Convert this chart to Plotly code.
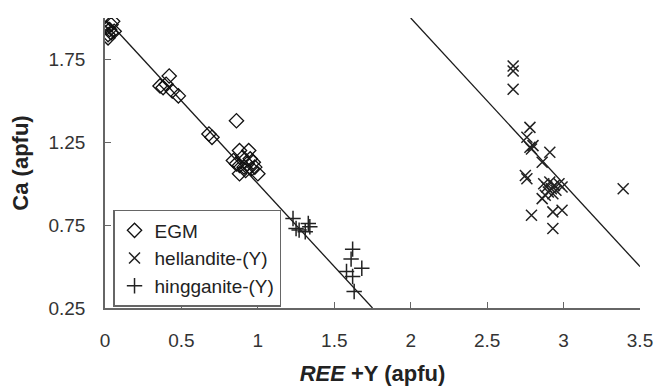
import plotly.graph_objects as go

# EGM data (REE+Y, Ca)
egm_x = [0.02, 0.03, 0.04, 0.05, 0.01, 0.06, 0.02, 0.04,
         0.38, 0.40, 0.42, 0.44, 0.48, 0.36,
         0.68, 0.70, 0.86,
         0.88, 0.94, 0.84, 0.88, 0.88, 0.97, 1.00, 0.96, 0.93, 0.91, 0.95, 0.92, 0.98, 0.90, 0.86]
egm_y = [1.90, 1.93, 1.96, 1.98, 1.94, 1.92, 1.88, 1.91,
         1.58, 1.60, 1.65, 1.56, 1.53, 1.59,
         1.30, 1.28, 1.38,
         1.20, 1.20, 1.14, 1.11, 1.06, 1.13, 1.06, 1.09, 1.12, 1.10, 1.15, 1.08, 1.10, 1.16, 1.12]

hel_x = [2.67, 2.67, 2.67, 2.78, 2.76, 2.78, 2.79, 2.80, 2.91, 2.86, 2.75, 2.76,
         2.89, 2.87, 2.90, 2.92, 2.94, 2.88, 2.91, 2.93, 2.95, 2.97, 2.99,
         3.39, 2.79, 2.93, 2.99, 2.93, 2.86]
hel_y = [1.71, 1.68, 1.57, 1.34, 1.28, 1.22, 1.21, 1.23, 1.19, 1.13, 1.05, 1.03,
         0.98, 1.00, 0.95, 0.97, 0.99, 0.93, 1.01, 0.94, 0.96, 1.00, 0.98,
         0.97, 0.81, 0.83, 0.84, 0.73, 0.91]

hin_x = [1.23, 1.25, 1.33, 1.27, 1.31, 1.34, 1.62, 1.61, 1.58, 1.62, 1.68, 1.63]
hin_y = [0.79, 0.73, 0.76, 0.72, 0.71, 0.74, 0.605, 0.545, 0.47, 0.44, 0.49, 0.35]

line1_x = [0.05, 1.75]
line1_y = [1.95, 0.25]
line2_x = [2.0, 3.5]
line2_y = [2.0, 0.5]

x_ticks = [0, 0.5, 1, 1.5, 2, 2.5, 3, 3.5]
x_labels = ["0", "0.5", "1", "1.5", "2", "2.5", "3", "3.5"]
y_ticks = [0.25, 0.75, 1.25, 1.75]
y_labels = ["0.25", "0.75", "1.25", "1.75"]

fig = go.Figure()
fig.add_trace(go.Scatter(x=line1_x, y=line1_y, mode="lines",
                         line=dict(color="#1a1a1a", width=1.3), showlegend=False, hoverinfo="skip"))
fig.add_trace(go.Scatter(x=line2_x, y=line2_y, mode="lines",
                         line=dict(color="#1a1a1a", width=1.3), showlegend=False, hoverinfo="skip"))
fig.add_trace(go.Scatter(x=egm_x, y=egm_y, mode="markers", name="EGM",
                         marker=dict(symbol="diamond-open", size=11, color="#111",
                                     line=dict(width=1.3, color="#111"))))
fig.add_trace(go.Scatter(x=hel_x, y=hel_y, mode="markers", name="hellandite-(Y)",
                         marker=dict(symbol="x-thin", size=11, color="#222",
                                     line=dict(width=1.5, color="#222"))))
fig.add_trace(go.Scatter(x=hin_x, y=hin_y, mode="markers", name="hingganite-(Y)",
                         marker=dict(symbol="cross-thin", size=11, color="#222",
                                     line=dict(width=1.5, color="#222"))))

axis_font = dict(family="Liberation Sans, Arial", size=19, color="#333")
fig.update_layout(
    width=658, height=387,
    margin=dict(l=105, r=18, t=18, b=79),
    paper_bgcolor="white", plot_bgcolor="white",
    font=dict(family="Liberation Sans, Arial", size=19, color="#222"),
    xaxis=dict(range=[0, 3.5], tickvals=x_ticks, ticktext=x_labels, automargin=False,
               showgrid=False, zeroline=False, showline=True, linecolor="#666", linewidth=1.5,
               ticks="inside", ticklen=6, tickcolor="#666", tickfont=axis_font,
               ticklabelstandoff=14,
               title=dict(text="<b><i>REE</i> +Y (apfu)</b>", font=dict(size=22, color="#222"), standoff=16)),
    yaxis=dict(range=[0.25, 2.0], tickvals=y_ticks, ticktext=y_labels, automargin=False,
               showgrid=False, zeroline=False, showline=True, linecolor="#666", linewidth=1.5,
               ticks="inside", ticklen=6, tickcolor="#666", tickfont=axis_font,
               ticklabelstandoff=14,
               title=dict(text="<b>Ca (apfu)</b>", font=dict(size=22, color="#222"), standoff=14)),
    legend=dict(x=0.015, y=0.338, xanchor="left", yanchor="top",
                bordercolor="#666", borderwidth=1.5, bgcolor="white",
                font=dict(size=19, color="#222"), itemwidth=30,
                tracegroupgap=0),
)

fig.write_html("out.html")
